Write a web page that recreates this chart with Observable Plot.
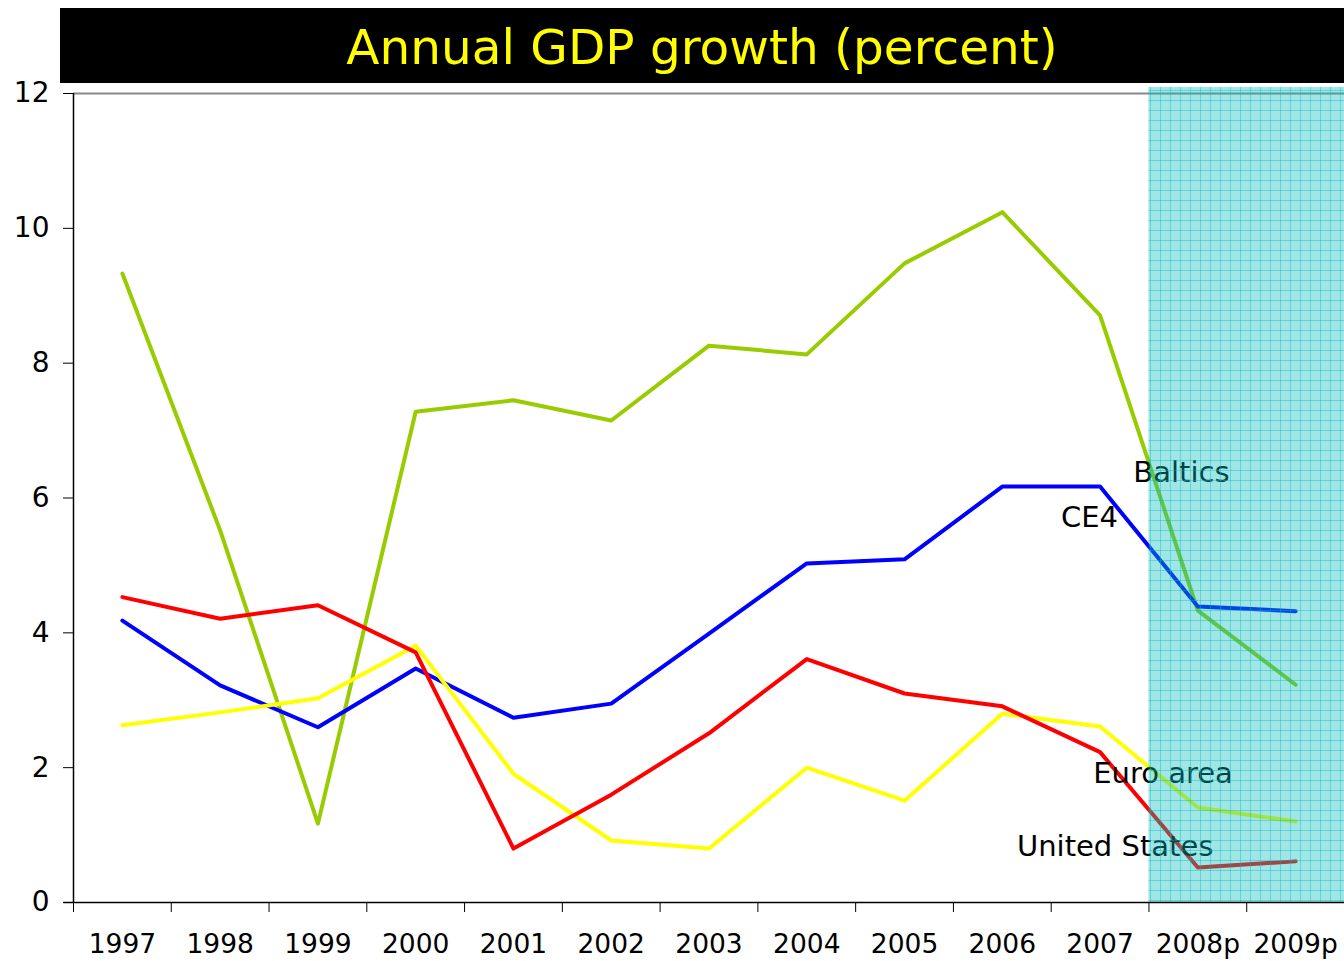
<!DOCTYPE html>
<html><head><meta charset="utf-8">
<script src="https://cdn.jsdelivr.net/npm/d3@7"></script>
<script src="https://cdn.jsdelivr.net/npm/@observablehq/plot@0.6"></script>
<style>
body{margin:0;background:#fff;font-family:"DejaVu Sans",Verdana,sans-serif;}
#wrap{position:relative;width:1344px;height:961px;}
#title{position:absolute;left:60px;top:8px;width:1284px;height:75px;background:#000;color:#ffff00;font-size:48.5px;line-height:78px;text-align:center;}
#chart svg{display:block;}
</style></head><body>
<div id="wrap">
<div id="chart"></div>
<div id="title">Annual GDP growth (percent)</div>
</div>
<script>
const categories = ["1997","1998","1999","2000","2001","2002","2003","2004","2005","2006","2007","2008p","2009p"];
const baltics = [9.33,5.52,1.17,7.28,7.45,7.15,8.26,8.13,9.48,10.24,8.71,4.33,3.23];
const ce4 = [4.18,3.22,2.60,3.47,2.74,2.95,3.99,5.03,5.09,6.17,6.17,4.39,4.32];
const euroArea = [2.63,2.82,3.03,3.81,1.91,0.92,0.80,2.00,1.51,2.80,2.61,1.41,1.20];
const unitedStates = [4.53,4.21,4.41,3.71,0.80,1.60,2.51,3.61,3.10,2.91,2.23,0.52,0.61];
const seriesNames = ["Baltics","CE4","Euro area","United States"];
const seriesColors = ["#99cc00","#0000ff","#ffff00","#ff0000"];
const forecastStart = "2008p";
const yTicks = [0,2,4,6,8,10,12];
// label anchor positions (category index units, percent)
const labelX = [10.84,10.10,10.43,9.65];
const labelY = [6.38,5.71,1.91,0.83];

const allSeries = [baltics, ce4, euroArea, unitedStates];
const rows = [];
allSeries.forEach((vals, s) => vals.forEach((v, i) => rows.push({series: seriesNames[s], i: i + 0.5, v})));
const labels = seriesNames.map((n, s) => ({name: n, x: labelX[s], y: labelY[s]}));
const fi = categories.indexOf(forecastStart);
const shade = [{x1: fi, x2: categories.length, y1: 0, y2: 12.09}];

const plot = Plot.plot({
  width: 1344, height: 961,
  marginTop: 93, marginBottom: 59, marginLeft: 73, marginRight: 0,
  style: {fontFamily: '"DejaVu Sans", Verdana, sans-serif', color: "#000", background: "transparent"},
  x: {domain: [0, categories.length], axis: null},
  y: {domain: [0, 12], axis: null},
  color: {domain: seriesNames, range: seriesColors},
  marks: [
    Plot.ruleY([12], {stroke: "#888", strokeWidth: 2}),
    Plot.line(rows, {x: "i", y: "v", z: "series", stroke: "series", strokeWidth: 4, strokeLinejoin: "round", strokeLinecap: "round"}),
    Plot.text(labels, {x: "x", y: "y", text: "name", textAnchor: "start", fontSize: 29, fill: "#000"}),
    Plot.rect(shade, {x1: "x1", x2: "x2", y1: "y1", y2: "y2", fill: "url(#gridpat)"}),
    Plot.axisY({ticks: yTicks, tickSize: 10, tickPadding: 14, fontSize: 28, tickFormat: d => d, stroke: "#000"}),
    Plot.axisX({ticks: d3.range(0, categories.length + 1), tickSize: 10, tickFormat: () => "", stroke: "#000"}),
    Plot.axisX({ticks: d3.range(categories.length).map(i => i + 0.5), tickSize: 0, tickPadding: 32, fontSize: 26.5, tickFormat: d => categories[Math.floor(d)]}),
    Plot.ruleX([0], {stroke: "#000", strokeWidth: 1.5}),
    Plot.ruleY([0], {stroke: "#000", strokeWidth: 1.5, x1: -0.1, x2: categories.length})
  ]
});
const ns = "http://www.w3.org/2000/svg";
const defs = document.createElementNS(ns, "defs");
defs.innerHTML = `<pattern id="gridpat" patternUnits="userSpaceOnUse" width="10" height="10">
<rect width="10" height="10" fill="rgba(0,188,188,0.37)"/>
<path d="M0 0.5H10M0.5 0V10" stroke="rgba(0,185,190,0.4)" stroke-width="1"/>
</pattern>`;
plot.insertBefore(defs, plot.firstChild);
document.getElementById("chart").appendChild(plot);
</script>
</body></html>
